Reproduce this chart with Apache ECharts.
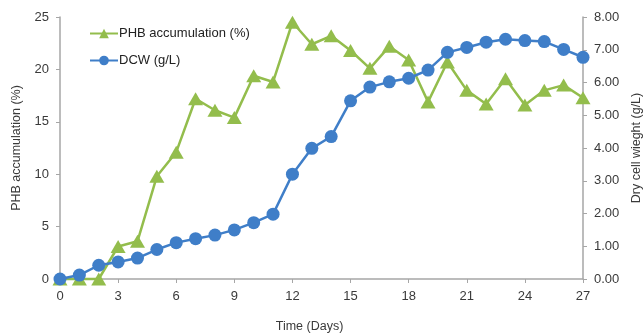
<!DOCTYPE html>
<html>
<head>
<meta charset="utf-8">
<script src="https://cdn.jsdelivr.net/npm/echarts@6/dist/echarts.min.js"></script>
<style>
  html, body { margin: 0; padding: 0; background: #fff; }
  #chart { width: 644px; height: 334px; }
</style>
</head>
<body>
<div id="chart"></div>
<script>
// days 0..27
const days = [0, 1, 2, 3, 4, 5, 6, 7, 8, 9, 10, 11, 12, 13, 14, 15, 16, 17, 18, 19, 20, 21, 22, 23, 24, 25, 26, 27];
const phb = [0, 0, 0, 3.1, 3.6, 9.8, 12.1, 17.2, 16.1, 15.4, 19.4, 18.8, 24.5, 22.4, 23.2, 21.8, 20.1, 22.2, 20.9, 16.9, 20.7, 18.0, 16.7, 19.1, 16.6, 18.0, 18.5, 17.3];
const dcw = [0, 0.12, 0.42, 0.52, 0.64, 0.9, 1.11, 1.23, 1.34, 1.5, 1.72, 1.98, 3.2, 3.99, 4.35, 5.44, 5.86, 6.02, 6.13, 6.38, 6.92, 7.07, 7.23, 7.32, 7.28, 7.25, 7.01, 6.77];
const xTicks = [0, 3, 6, 9, 12, 15, 18, 21, 24, 27];

const green = '#93bd4c';
const blue = '#3f7ec8';
const axisGrey = '#a6a6a6';
const textCol = '#3a3a3a';
const font = 'Liberation Sans';

const chart = echarts.init(document.getElementById('chart'));

const pairs = (vals) => days.map((d, i) => [d, vals[i]]);

const option = {
    animation: false,
    backgroundColor: '#fff',
    textStyle: { fontFamily: font },
    grid: { left: 60, right: 61, top: 17, bottom: 55, containLabel: false, outerBoundsMode: 'none' },
    legend: {
        orient: 'vertical',
        left: 84,
        top: 22,
        itemWidth: 28,
        itemHeight: 12,
        itemGap: 14,
        textStyle: { fontFamily: font, fontSize: 13, color: '#222', padding: [0, 0, 0, -4] },
        data: ['PHB accumulation (%)', 'DCW (g/L)']
    },
    xAxis: {
        type: 'value',
        min: 0,
        max: 27,
        interval: 3,
        name: 'Time (Days)',
        nameLocation: 'middle',
        nameGap: 41,
        nameTextStyle: { fontFamily: font, fontSize: 12.5, color: textCol, padding: [0, 24, 0, 0] },
        axisLine: { lineStyle: { color: axisGrey, width: 1.5 } },
        axisTick: { show: true, length: 4, lineStyle: { color: axisGrey } },
        axisLabel: {
            fontFamily: font, fontSize: 13, color: textCol, margin: 11,
            formatter: (v) => xTicks.includes(v) ? String(v) : ''
        },
        splitLine: { show: false }
    },
    yAxis: [{
        type: 'value',
        min: 0,
        max: 25,
        interval: 5,
        name: 'PHB accumulation (%)',
        nameLocation: 'middle',
        nameRotate: 90,
        nameGap: 37,
        nameTextStyle: { fontFamily: font, fontSize: 12.5, color: textCol },
        axisLine: { show: true, lineStyle: { color: axisGrey, width: 1.5 } },
        axisTick: { show: true, length: 4, lineStyle: { color: axisGrey } },
        axisLabel: { fontFamily: font, fontSize: 13, color: textCol, margin: 11 },
        splitLine: { show: false }
    }, {
        type: 'value',
        min: 0,
        max: 8,
        interval: 1,
        position: 'right',
        name: 'Dry cell wieght (g/L)',
        nameLocation: 'middle',
        nameRotate: 90,
        nameGap: 47,
        nameTextStyle: { fontFamily: font, fontSize: 12.5, color: textCol },
        axisLine: { show: true, lineStyle: { color: axisGrey, width: 1.5 } },
        axisTick: { show: true, length: 4, lineStyle: { color: axisGrey } },
        axisLabel: {
            fontFamily: font, fontSize: 13, color: textCol, margin: 11,
            formatter: (v) => v.toFixed(2)
        },
        splitLine: { show: false }
    }],
    series: [{
        name: 'PHB accumulation (%)',
        type: 'line',
        yAxisIndex: 0,
        data: pairs(phb),
        symbol: 'triangle',
        symbolSize: [15, 13],
        itemStyle: { color: green },
        lineStyle: { color: green, width: 2.5 },
        clip: false
    }, {
        name: 'DCW (g/L)',
        type: 'line',
        yAxisIndex: 1,
        data: pairs(dcw),
        symbol: 'circle',
        symbolSize: 13,
        itemStyle: { color: blue },
        lineStyle: { color: blue, width: 2.5 },
        clip: false
    }]
};

chart.setOption(option);
</script>
</body>
</html>
